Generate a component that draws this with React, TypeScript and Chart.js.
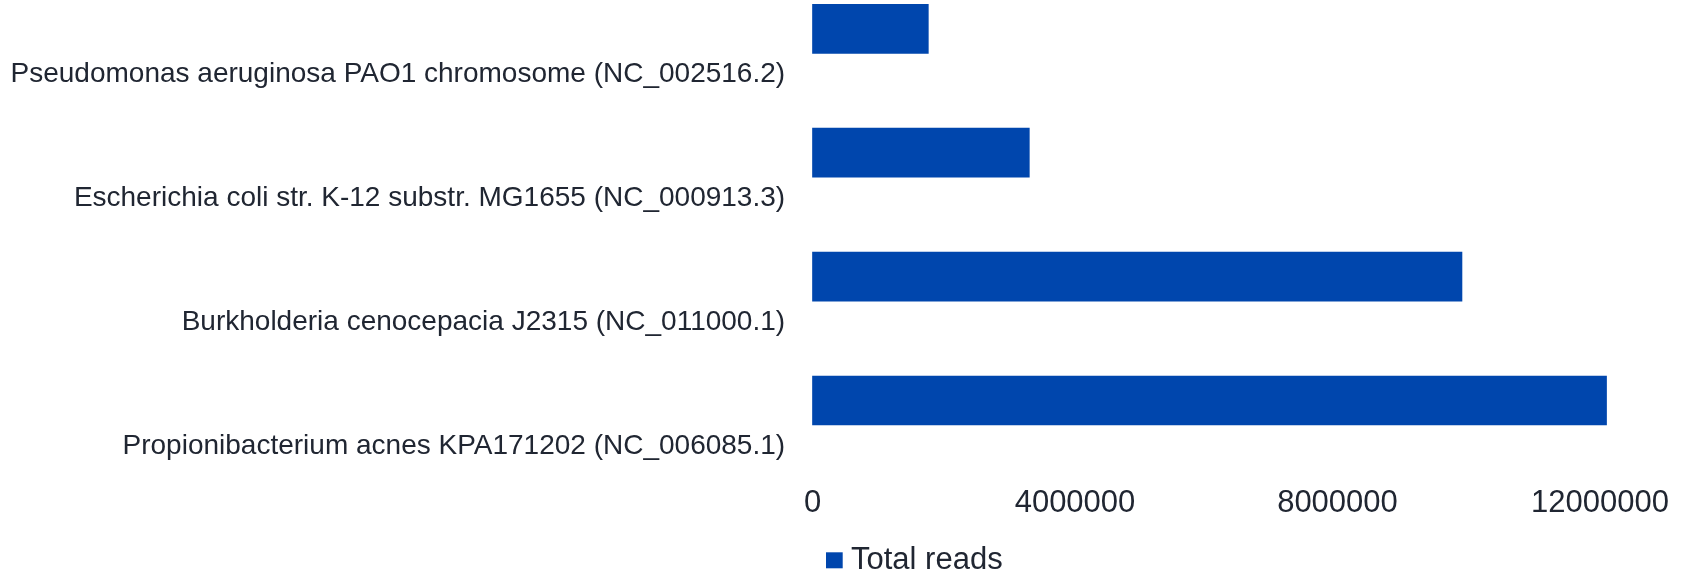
import React, { useEffect, useRef } from "react";
import { Chart, registerables } from "chart.js";

Chart.register(...registerables);

const categories: string[] = [
  "Pseudomonas aeruginosa PAO1 chromosome (NC_002516.2)",
  "Escherichia coli str. K-12 substr. MG1655 (NC_000913.3)",
  "Burkholderia cenocepacia J2315 (NC_011000.1)",
  "Propionibacterium acnes KPA171202 (NC_006085.1)",
];
const totalReads: number[] = [1765000, 3304000, 9897000, 12100000];
const xTickValues: number[] = [0, 4000000, 8000000, 12000000];
const seriesName = "Total reads";

const BAR_COLOR = "#0046AD";
const TEXT_COLOR = "#202632";
const FONT = "'Liberation Sans', Arial, sans-serif";

export default function App() {
  const ref = useRef<HTMLCanvasElement | null>(null);

  useEffect(() => {
    document.body.style.margin = "0";
    const canvas = ref.current;
    if (!canvas) return;

    const legendPlugin = {
      id: "customLegend",
      afterDraw(chart: any) {
        const ctx = chart.ctx;
        const ds = chart.data.datasets[0];
        ctx.save();
        ctx.fillStyle = ds.backgroundColor;
        ctx.fillRect(826, 552.3, 16.7, 16);
        ctx.fillStyle = TEXT_COLOR;
        ctx.font = `31px ${FONT}`;
        ctx.textBaseline = "middle";
        ctx.textAlign = "left";
        ctx.fillText(ds.label, 851, 560.5);
        ctx.restore();
      },
    };

    const chart = new Chart(canvas, {
      type: "bar",
      data: {
        labels: categories,
        datasets: [
          {
            label: seriesName,
            data: totalReads,
            backgroundColor: BAR_COLOR,
            borderWidth: 0,
            barThickness: 49,
            clip: false as any,
          },
        ],
      },
      options: {
        indexAxis: "y",
        animation: false,
        responsive: false,
        layout: { padding: { top: 28.8, bottom: 56.5, left: 0, right: 26.4 } },
        plugins: {
          legend: { display: false },
          tooltip: { enabled: false },
          title: { display: false },
        },
        scales: {
          y: {
            type: "category",
            offset: false,
            grid: { display: false, drawTicks: false },
            border: { display: false },
            ticks: {
              padding: 27.4,
              labelOffset: 45.5,
              color: TEXT_COLOR,
              font: { family: FONT, size: 28 },
              autoSkip: false,
            },
            afterFit(scale: any) {
              scale.width = 812.5;
              scale.paddingTop = 0;
              scale.paddingBottom = 0;
            },
          },
          x: {
            type: "linear",
            min: 0,
            max: 13000000,
            grid: { display: false, drawTicks: false },
            border: { display: false },
            afterBuildTicks(scale: any) {
              scale.ticks = xTickValues.map((v) => ({ value: v }));
            },
            ticks: {
              padding: 84,
              color: TEXT_COLOR,
              font: { family: FONT, size: 31 },
              maxRotation: 0,
              autoSkip: false,
              callback: (v: any) => String(v),
            },
            afterFit(scale: any) {
              scale.height = 120;
              scale.paddingLeft = 0;
              scale.paddingRight = 0;
            },
          },
        },
      },
      plugins: [legendPlugin],
    });

    return () => chart.destroy();
  }, []);

  return (
    <div style={{ width: 1692, height: 577, position: "relative", background: "#ffffff" }}>
      <canvas ref={ref} width={1692} height={577} style={{ display: "block" }} />
    </div>
  );
}
